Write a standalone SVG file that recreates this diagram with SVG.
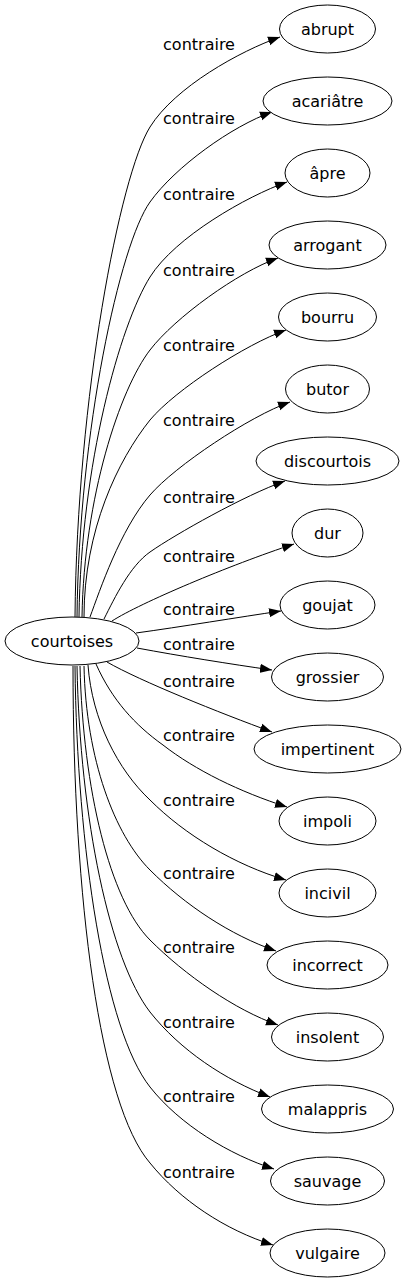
<svg xmlns="http://www.w3.org/2000/svg" width="407" height="1283" viewBox="0 0 407 1283">
<defs>
<style>
.node ellipse{fill:#fff;stroke:#000;stroke-width:1}
text{font-family:"DejaVu Sans","Liberation Sans",sans-serif;font-size:16px;fill:#000;text-anchor:middle}
#edges path{fill:none;stroke:#000;stroke-width:1;marker-end:url(#arr)}
</style>
<marker id="arr" viewBox="0 0 12 10" refX="12" refY="5" markerWidth="12" markerHeight="10" orient="auto" markerUnits="userSpaceOnUse"><path d="M0,0.5 L12,5 L0,9.5 z" fill="#000"/></marker>
</defs>
<rect width="407" height="1283" fill="#fff"/>
<g id="edges">
<path d="M75,617 C77,397 120,175 150,127 C175,87 240,51 280,37"/>
<path d="M77,617 C79,430 120,244 150,202 C175,167 232,126 272,112"/>
<path d="M79,617 C81,464 120,325 150,277 C175,237 247,196 287,182"/>
<path d="M82,617 C84,497 120,389 150,350 C175,317.5 238,272 278,258"/>
<path d="M84,617 C84,530 118,460 150,420 C175,390 246,344 286,330"/>
<path d="M90,617 C100,590 120,530 150,495 C175,466 250,416 290,402"/>
<path d="M104,619 C115,597 130,566 150,552 C175,534.5 245,495 285,481"/>
<path d="M112,621 C140,603 230,565 294,544"/>
<path d="M136,633 C180,627 240,617 281,611"/>
<path d="M137,648 C180,656 230,664 272,670"/>
<path d="M107,662 C140,681 220,713 272,732"/>
<path d="M96,664 C112,700 135,725 163,745 C195,770 240,792 287,807"/>
<path d="M88,665 C92,720 118,770 150,800 C185,835 235,865 286,880"/>
<path d="M84,666 C86,760 115,835 150,870 C185,905 230,935 276,951"/>
<path d="M80,666 C83,790 110,900 150,940 C185,975 235,1010 278,1025"/>
<path d="M77,666 C80,820 110,960 150,1012 C180,1050 225,1080 270,1097"/>
<path d="M75,666 C77,850 105,1030 150,1087 C180,1125 230,1155 274,1169"/>
<path d="M73,666 C73,900 100,1105 150,1163 C180,1200 225,1230 273,1245"/>
</g>
<g id="edge-labels">
<text x="199" y="50">contraire</text>
<text x="199" y="124">contraire</text>
<text x="199" y="200">contraire</text>
<text x="199" y="276">contraire</text>
<text x="199" y="351">contraire</text>
<text x="199" y="426">contraire</text>
<text x="199" y="503">contraire</text>
<text x="199" y="562">contraire</text>
<text x="199" y="615">contraire</text>
<text x="199" y="650">contraire</text>
<text x="199" y="687">contraire</text>
<text x="199" y="741">contraire</text>
<text x="199" y="806">contraire</text>
<text x="199" y="879">contraire</text>
<text x="199" y="953">contraire</text>
<text x="199" y="1028">contraire</text>
<text x="199" y="1102">contraire</text>
<text x="199" y="1178">contraire</text>
</g>
<g id="n-courtoises" class="node"><ellipse cx="72" cy="641" rx="67" ry="24"/><text x="72" y="647">courtoises</text></g>
<g id="n-abrupt" class="node"><ellipse cx="327.5" cy="29" rx="48" ry="24"/><text x="327.5" y="35">abrupt</text></g>
<g id="n-acariatre" class="node"><ellipse cx="327.5" cy="101" rx="64.5" ry="24"/><text x="327.5" y="107">acariâtre</text></g>
<g id="n-apre" class="node"><ellipse cx="327.5" cy="173" rx="42.5" ry="24"/><text x="327.5" y="179">âpre</text></g>
<g id="n-arrogant" class="node"><ellipse cx="327.5" cy="245" rx="58.5" ry="24"/><text x="327.5" y="251">arrogant</text></g>
<g id="n-bourru" class="node"><ellipse cx="327.5" cy="317" rx="49" ry="24"/><text x="327.5" y="323">bourru</text></g>
<g id="n-butor" class="node"><ellipse cx="327.5" cy="389" rx="42" ry="24"/><text x="327.5" y="395">butor</text></g>
<g id="n-discourtois" class="node"><ellipse cx="327.5" cy="461" rx="71.5" ry="24"/><text x="327.5" y="467">discourtois</text></g>
<g id="n-dur" class="node"><ellipse cx="327.5" cy="533" rx="35.5" ry="24"/><text x="327.5" y="539">dur</text></g>
<g id="n-goujat" class="node"><ellipse cx="327.5" cy="605" rx="47.5" ry="24"/><text x="327.5" y="611">goujat</text></g>
<g id="n-grossier" class="node"><ellipse cx="327.5" cy="677" rx="56" ry="24"/><text x="327.5" y="683">grossier</text></g>
<g id="n-impertinent" class="node"><ellipse cx="327.5" cy="749" rx="73.5" ry="24"/><text x="327.5" y="755">impertinent</text></g>
<g id="n-impoli" class="node"><ellipse cx="327.5" cy="821" rx="48.5" ry="24"/><text x="327.5" y="827">impoli</text></g>
<g id="n-incivil" class="node"><ellipse cx="327.5" cy="893" rx="48.5" ry="24"/><text x="327.5" y="899">incivil</text></g>
<g id="n-incorrect" class="node"><ellipse cx="327.5" cy="965" rx="60.5" ry="24"/><text x="327.5" y="971">incorrect</text></g>
<g id="n-insolent" class="node"><ellipse cx="327.5" cy="1037" rx="56" ry="24"/><text x="327.5" y="1043">insolent</text></g>
<g id="n-malappris" class="node"><ellipse cx="327.5" cy="1109" rx="66" ry="24"/><text x="327.5" y="1115">malappris</text></g>
<g id="n-sauvage" class="node"><ellipse cx="327.5" cy="1181" rx="57" ry="24"/><text x="327.5" y="1187">sauvage</text></g>
<g id="n-vulgaire" class="node"><ellipse cx="327.5" cy="1253" rx="57.5" ry="24"/><text x="327.5" y="1259">vulgaire</text></g>
</svg>
